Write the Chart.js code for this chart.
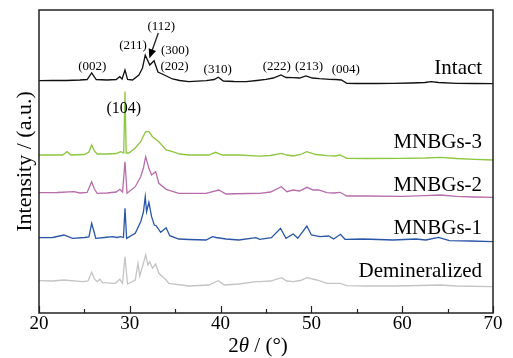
<!DOCTYPE html>
<html>
<head>
<meta charset="utf-8">
<script src="https://cdn.jsdelivr.net/npm/chart.js@4.4.1/dist/chart.umd.min.js"></script>
<style>
  html, body { margin: 0; padding: 0; background: #fff; }
  #wrap { width: 513px; height: 358px; position: relative; }
</style>
</head>
<body>
<div id="wrap"><canvas id="xrd"></canvas></div>
<script>
'use strict';

// ---- data: 2θ positions and stacked intensities (a.u.) ----
const intactX = [20, 21.5, 23, 24.5, 25.3, 25.8, 26.3, 27.5, 28.5, 28.9, 29.15, 29.47, 29.75, 30.3, 31.0, 31.4, 31.7, 32.2, 32.67, 33.1,
  33.8, 34.7, 35.5, 36.5, 38.4, 39.3, 39.75, 40.3, 41.5, 42.8, 44, 45, 45.8, 46.65, 47.2, 48.0, 48.7, 49.4, 50.1, 50.9,
  52.0, 52.7, 53.3, 53.9, 55, 57, 59, 61, 62.5, 63.2, 64, 66, 68, 70];
const intactY = [232.3, 232.5, 232.5, 233, 233.5, 240, 233.5, 233, 233.5, 236.3, 234, 243, 233.5, 233, 238, 245, 258, 248, 252.3, 241,
  238, 234, 232.5, 231.3, 232.3, 233.5, 235.7, 232, 231.5, 231.3, 232.5, 233.7, 235, 238, 235.5, 235.3, 235, 237, 235, 234.3,
  233.7, 233.5, 233, 229.7, 229.5, 229.5, 229.7, 230, 230.5, 231.3, 230.5, 229.7, 229.5, 229.3];

const mnbg3X = [20, 21.5, 22.6, 23.1, 23.5, 25.0, 25.5, 25.8, 26.1, 26.4, 27.5, 28.5, 29.0, 29.33, 29.47, 29.6, 29.9, 30.6, 31.2, 31.5,
  31.75, 32.1, 32.5, 33.2, 34.0, 34.7, 35.5, 36.5, 38.7, 39.45, 40.2, 42, 44.3, 45.5, 46.7, 47.3, 48.0, 48.8, 49.5, 50.5,
  51.7, 52.6, 53.15, 53.9, 56, 60, 62.5, 64.2, 66, 68, 70];
const mnbg3Y = [158, 158, 158, 161.3, 158, 158.5, 161, 168, 162, 159, 159, 159.5, 161.3, 160, 221.5, 160, 160, 165, 171.3, 177,
  181.3, 181.3, 176.3, 171.3, 163, 161.3, 159, 158, 158, 160.7, 158, 158, 156.8, 157.5, 159.7, 158, 157, 158.5, 161.3, 158.5,
  157.3, 157, 158, 154.7, 154.5, 154.7, 155, 155.7, 154.5, 153.7, 153];

const mnbg2X = [20, 22, 23.85, 24.5, 25.3, 25.8, 26.1, 26.4, 27.5, 28.5, 28.9, 29.2, 29.47, 29.7, 30.6, 31.2, 31.5, 31.75, 32.1, 32.4,
  32.85, 33.2, 34.0, 35.4, 38.4, 39.8, 40.6, 43, 44.3, 45.5, 46.7, 47.3, 48.0, 48.7, 49.5, 50.2, 50.8, 51.7, 52.5, 53.15,
  53.9, 56, 60, 62.5, 64.2, 66, 68, 70];
const mnbg2Y = [120.3, 120.5, 121.3, 120, 120.5, 131.3, 124, 119.7, 120, 121, 123.7, 121, 151.3, 119.7, 126.3, 136.3, 145, 156.3, 144.7, 138,
  141.3, 129.7, 123.7, 119.7, 119.7, 123, 119, 119.5, 119.7, 121, 126.3, 121.3, 123, 122, 125.7, 123, 123, 120.3, 120, 120.7,
  117, 117, 116.7, 117.3, 118, 116.7, 116, 115.7];

const mnbg1X = [20, 21.5, 22.75, 23.7, 25.0, 25.5, 25.8, 26.1, 26.25, 27.2, 28.1, 28.6, 29.0, 29.3, 29.47, 29.65, 30.6, 31.2, 31.5, 31.7,
  31.85, 32.1, 32.4, 32.7, 32.9, 33.4, 34.0, 34.4, 35.4, 36.5, 38.4, 39.1, 39.5, 40.6, 42.0, 43.9, 44.3, 45.6, 46.6, 47.2,
  48.0, 48.5, 49.5, 50.0, 50.95, 51.9, 52.45, 53.2, 53.7, 55.7, 59.0, 61.5, 62.6, 64.0, 65.2, 67.5, 70];
const mnbg1Y = [75.3, 75.5, 78, 74.7, 75.5, 76, 89.7, 80, 74.7, 75.5, 76.3, 75.5, 76.3, 75.5, 104.7, 74.7, 79.7, 91.3, 101, 116.3,
  101.3, 110.7, 96.3, 88, 87.3, 80.7, 85.3, 77.3, 74, 73.5, 73, 76.3, 75.5, 74, 73, 75.3, 73.7, 75.3, 84.7, 74.7,
  79, 74.7, 87, 78, 76.3, 77, 74, 78.7, 73.7, 74, 73, 74, 73, 75.7, 72.3, 72, 71.3];

const demX = [20, 21.5, 22.75, 24.8, 25.4, 25.8, 26.1, 26.4, 26.7, 27.0, 28.4, 28.9, 29.2, 29.47, 29.75, 30.6, 30.9, 31.1, 31.5, 31.75,
  32.0, 32.2, 32.5, 32.85, 33.2, 34.0, 34.3, 36.5, 38.7, 39.75, 40.4, 42.0, 43.9, 44.3, 45.5, 46.7, 47.3, 48.0, 48.8, 49.5,
  50.6, 51.7, 53.15, 53.9, 56, 59.0, 62, 64.2, 66, 69.9];
const demY = [32.3, 32, 33, 31.3, 32, 40.7, 34, 31.3, 33.7, 30.3, 29.7, 33.7, 29.7, 56.3, 29, 33, 49.7, 37, 49.7, 58,
  48, 51.3, 44.7, 49, 39.7, 33, 29.7, 27, 28, 32.3, 28, 29, 31.3, 31.3, 32, 35.3, 32, 31.3, 32.5, 35.3,
  33, 29.7, 29.7, 27.3, 27, 27, 27.5, 28, 27, 26.3];

const sampleNames = ['Intact', 'MNBGs-3', 'MNBGs-2', 'MNBGs-1', 'Demineralized'];
const sampleColors = ['#111111', '#8dc63f', '#b86dab', '#2a56a6', '#c4c4c4'];
const nameY = [239, 165, 122.3, 79, 36.3];

// reflection labels: [text, 2θ, level]
const peakLabels = [
  ['(002)', 25.87, 243], ['(211)', 30.35, 264], ['(112)', 33.47, 283], ['(300)', 34.98, 259],
  ['(202)', 34.92, 243], ['(310)', 39.68, 240], ['(222)', 46.18, 243], ['(213)', 49.74, 243],
  ['(004)', 53.78, 240]
];
const calciteLabel = ['(104)', 29.33, 200];
const arrowFrom = [33.14, 280];
const arrowTo = [32.15, 254.7];

const xTicks = [20, 30, 40, 50, 60, 70];

// ---- helpers ----
function pts(xs, ys) {
  return xs.map((x, i) => ({ x: x, y: ys[i] }));
}

const SERIF = "'Liberation Serif', 'Times New Roman', serif";

const decorations = {
  id: 'decorations',
  afterDraw(chart) {
    const { ctx, chartArea: a, scales: { x, y } } = chart;
    ctx.save();
    // frame
    ctx.strokeStyle = '#222';
    ctx.lineWidth = 1.5;
    ctx.strokeRect(a.left, a.top, a.right - a.left, a.bottom - a.top);
    // inward ticks on bottom axis
    ctx.lineWidth = 1.2;
    for (let v = 20; v <= 70; v += 5) {
      const px = Math.round(x.getPixelForValue(v)) + 0.5;
      const len = v % 10 === 0 ? 7 : 4;
      ctx.beginPath();
      ctx.moveTo(px, a.bottom);
      ctx.lineTo(px, a.bottom - len);
      ctx.stroke();
    }
    // reflection labels
    ctx.fillStyle = '#000';
    ctx.textAlign = 'center';
    ctx.textBaseline = 'alphabetic';
    ctx.font = '13px ' + SERIF;
    peakLabels.forEach(([t, tx, ty]) => {
      ctx.fillText(t, x.getPixelForValue(tx), y.getPixelForValue(ty));
    });
    ctx.font = '16px ' + SERIF;
    ctx.fillText(calciteLabel[0], x.getPixelForValue(calciteLabel[1]), y.getPixelForValue(calciteLabel[2]));
    // arrow to (112)
    const x0 = x.getPixelForValue(arrowFrom[0]), y0 = y.getPixelForValue(arrowFrom[1]);
    const x1 = x.getPixelForValue(arrowTo[0]), y1 = y.getPixelForValue(arrowTo[1]);
    const ang = Math.atan2(y1 - y0, x1 - x0);
    const head = 10;
    ctx.lineWidth = 1.3;
    ctx.beginPath();
    ctx.moveTo(x0, y0);
    ctx.lineTo(x1 - Math.cos(ang) * head * 0.8, y1 - Math.sin(ang) * head * 0.8);
    ctx.stroke();
    ctx.beginPath();
    ctx.moveTo(x1, y1);
    ctx.lineTo(x1 - head * Math.cos(ang - 0.4), y1 - head * Math.sin(ang - 0.4));
    ctx.lineTo(x1 - head * Math.cos(ang + 0.4), y1 - head * Math.sin(ang + 0.4));
    ctx.closePath();
    ctx.fill();
    // sample names
    ctx.textAlign = 'right';
    ctx.font = '21px ' + SERIF;
    sampleNames.forEach((n, i) => {
      ctx.fillText(n, x.getPixelForValue(68.8), y.getPixelForValue(nameY[i]));
    });
    // axis titles
    ctx.font = '21px ' + SERIF;
    const cx = (a.left + a.right) / 2 - 8;
    const parts = [['2', ''], ['θ', 'italic '], [' / (°)', '']];
    let total = 0;
    parts.forEach(([s, st]) => { ctx.font = st + '21px ' + SERIF; total += ctx.measureText(s).width; });
    let px = cx - total / 2;
    ctx.textAlign = 'left';
    parts.forEach(([s, st]) => {
      ctx.font = st + '21px ' + SERIF;
      ctx.fillText(s, px, 352);
      px += ctx.measureText(s).width;
    });
    ctx.translate(31, (a.top + a.bottom) / 2);
    ctx.rotate(-Math.PI / 2);
    ctx.textAlign = 'center';
    ctx.font = '22px ' + SERIF;
    ctx.fillText('Intensity / (a.u.)', 0, 0);
    ctx.restore();
  }
};

const seriesX = [intactX, mnbg3X, mnbg2X, mnbg1X, demX];
const seriesY = [intactY, mnbg3Y, mnbg2Y, mnbg1Y, demY];

new Chart(document.getElementById('xrd'), {
  type: 'line',
  data: {
    datasets: sampleNames.map((n, i) => ({
      label: n,
      data: pts(seriesX[i], seriesY[i]),
      borderColor: sampleColors[i],
      borderWidth: 1.3,
      pointRadius: 0,
      tension: 0,
      fill: false
    }))
  },
  options: {
    responsive: true,
    maintainAspectRatio: false,
    animation: false,
    layout: { padding: { top: 10, right: 20, left: 0, bottom: 0 } },
    plugins: { legend: { display: false }, tooltip: { enabled: false } },
    scales: {
      x: {
        type: 'linear',
        min: 20,
        max: 70,
        afterBuildTicks: (s) => { s.ticks = xTicks.map(v => ({ value: v })); },
        afterFit: (s) => { s.height = 45; },
        grid: { display: false, drawTicks: false },
        border: { display: false },
        ticks: { color: '#000', font: { family: SERIF, size: 19 }, padding: 0, maxRotation: 0 }
      },
      y: {
        min: 0,
        max: 303,
        afterFit: (s) => { s.width = 39; },
        grid: { display: false, drawTicks: false },
        border: { display: false },
        ticks: { display: false }
      }
    }
  },
  plugins: [decorations]
});
</script>
</body>
</html>
